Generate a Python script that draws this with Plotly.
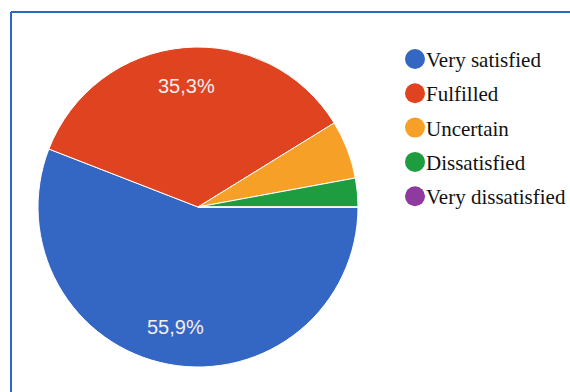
import math
import plotly.graph_objects as go

categories = ["Very satisfied", "Fulfilled", "Uncertain", "Dissatisfied", "Very dissatisfied"]
percentages = [55.9, 35.3, 5.9, 2.9, 0.0]
colors = ["#3467C4", "#DF4320", "#F7A028", "#1E9C40", "#8E3A9E"]

W, H = 570, 392

def px(x):
    return x / W

def py(y):
    return 1 - y / H

# pie geometry (pixels)
CX, CY, R = 198, 207, 160
START = 90  # degrees, compass (3 o'clock), clockwise

fig = go.Figure()
fig.add_trace(go.Pie(
    labels=categories,
    values=percentages,
    textinfo="none",
    marker=dict(colors=colors, line=dict(color="#FFFFFF", width=1)),
    sort=False,
    direction="clockwise",
    rotation=START,
    showlegend=False,
    hoverinfo="label+percent",
    domain=dict(x=[px(CX - R), px(CX + R)], y=[py(CY + R), py(CY - R)]),
))

annotations = []
shapes = []

# Slice percentage labels (only for large slices), placed at the slice mid-angle
total = sum(percentages)
cum = 0.0
for v in percentages:
    if v / total >= 0.10:
        theta = math.radians(START + 360 * (cum + v / 2) / total)
        lx = CX + 0.76 * R * math.sin(theta)
        ly = CY - 0.76 * R * math.cos(theta)
        annotations.append(dict(text=f"{v:.1f}".replace(".", ",") + "%",
                                xref="paper", yref="paper", x=px(lx), y=py(ly),
                                xanchor="center", yanchor="middle", showarrow=False,
                                font=dict(family="Liberation Sans, Arial, sans-serif", size=20, color="#F4EEEE")))
    cum += v

# Legend drawn as circles + text
y0, step, r = 59, 34.3, 10
for i, (cat, col) in enumerate(zip(categories, colors)):
    cy = y0 + i * step
    shapes.append(dict(type="circle", xref="paper", yref="paper",
                       x0=px(415 - r), x1=px(415 + r), y0=py(cy + r), y1=py(cy - r),
                       fillcolor=col, line=dict(width=0)))
    annotations.append(dict(text=cat, xref="paper", yref="paper", x=px(424), y=py(cy + 1),
                            xanchor="left", yanchor="middle", showarrow=False,
                            font=dict(family="Liberation Serif, Times New Roman, serif", size=21, color="#111111")))

# Blue frame (top and left edges visible)
frame = dict(color="#2A69C4", width=2)
shapes.append(dict(type="line", xref="paper", yref="paper",
                   x0=px(11), x1=1, y0=py(12), y1=py(12), line=frame))
shapes.append(dict(type="line", xref="paper", yref="paper",
                   x0=px(11), x1=px(11), y0=py(12), y1=0, line=frame))

fig.update_layout(
    width=W, height=H,
    margin=dict(l=0, r=0, t=0, b=0),
    paper_bgcolor="#FFFFFF",
    plot_bgcolor="#FFFFFF",
    shapes=shapes,
    annotations=annotations,
)

fig.write_html("out.html",
               config={"displayModeBar": False},
               post_script="document.body.style.margin='0';document.body.style.overflow='hidden';")
